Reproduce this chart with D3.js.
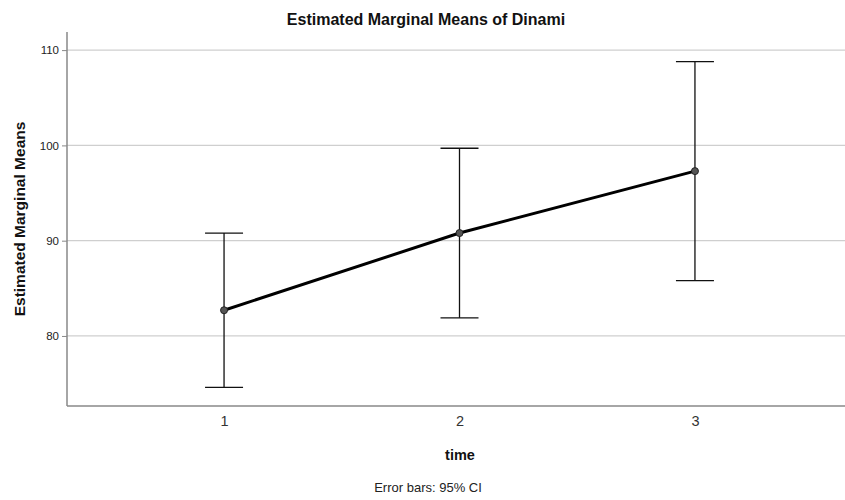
<!DOCTYPE html>
<html><head><meta charset="utf-8">
<script src="https://cdn.jsdelivr.net/npm/d3@7"></script>
<style>body{margin:0;background:#fff}svg{display:block}text{font-family:"Liberation Sans",Arial,sans-serif}</style>
</head><body>
<svg id="c" width="845" height="500"></svg>
<script>
const categories = ["1","2","3"];
const means = [82.7, 90.8, 97.3];
const lower = [74.6, 81.9, 85.8];
const upper = [90.8, 99.7, 108.8];
const yTicks = [80, 90, 100, 110];

const svg = d3.select("#c");
const L = 67, R = 845, T = 32, B = 406;
const x = d3.scalePoint().domain(categories).range([L + 4, R + 3]).padding(0.65);
const y = d3.scaleLinear().domain([72.65, 111.9]).range([B, T]);

// gridlines
svg.append("g").selectAll("line").data(yTicks).join("line")
  .attr("x1", L).attr("x2", R).attr("y1", d => y(d)).attr("y2", d => y(d))
  .attr("stroke", "#cfcfcf").attr("stroke-width", 1.2);

// axes
const ya = svg.append("g").attr("transform", `translate(${L},0)`)
  .call(d3.axisLeft(y).tickValues(yTicks).tickSize(5).tickPadding(3));
ya.select(".domain").remove();
ya.selectAll("line").attr("stroke", "#888");
ya.selectAll("text").attr("font-size", 11.5).attr("fill", "#222");
svg.append("line").attr("x1", L).attr("x2", L).attr("y1", T).attr("y2", B).attr("stroke", "#888").attr("stroke-width", 1.5);

const xa = svg.append("g").attr("transform", `translate(0,${B})`)
  .call(d3.axisBottom(x).tickSize(0).tickPadding(10));
xa.select(".domain").remove();
xa.selectAll("text").attr("font-size", 14.5).attr("fill", "#333");
svg.append("line").attr("x1", L).attr("x2", R).attr("y1", B).attr("y2", B).attr("stroke", "#888").attr("stroke-width", 1.5);

// error bars
const eb = svg.append("g").attr("stroke", "#111").attr("stroke-width", 1.3);
categories.forEach((c, i) => {
  eb.append("line").attr("x1", x(c)).attr("x2", x(c)).attr("y1", y(upper[i])).attr("y2", y(lower[i]));
  eb.append("line").attr("x1", x(c) - 19).attr("x2", x(c) + 19).attr("y1", y(upper[i])).attr("y2", y(upper[i]));
  eb.append("line").attr("x1", x(c) - 19).attr("x2", x(c) + 19).attr("y1", y(lower[i])).attr("y2", y(lower[i]));
});

// mean line
svg.append("path").datum(means)
  .attr("d", d3.line().x((d, i) => x(categories[i])).y(d => y(d)))
  .attr("fill", "none").attr("stroke", "#000").attr("stroke-width", 3);

svg.append("g").selectAll("circle").data(means).join("circle")
  .attr("cx", (d, i) => x(categories[i])).attr("cy", d => y(d)).attr("r", 3.5)
  .attr("fill", "#555").attr("stroke", "#222").attr("stroke-width", 1);

// texts
svg.append("text").attr("x", 426).attr("y", 25).attr("text-anchor", "middle")
  .attr("font-size", 16).attr("font-weight", "bold").attr("fill", "#111").text("Estimated Marginal Means of Dinami");
svg.append("text").attr("transform", `translate(25,${(T+B)/2}) rotate(-90)`).attr("text-anchor", "middle")
  .attr("font-size", 15.5).attr("font-weight", "bold").attr("fill", "#111").text("Estimated Marginal Means");
svg.append("text").attr("x", 460).attr("y", 460).attr("text-anchor", "middle")
  .attr("font-size", 14.5).attr("font-weight", "bold").attr("fill", "#111").text("time");
svg.append("text").attr("x", 428).attr("y", 492).attr("text-anchor", "middle")
  .attr("font-size", 13).attr("fill", "#222").text("Error bars: 95% CI");
</script>
</body></html>
